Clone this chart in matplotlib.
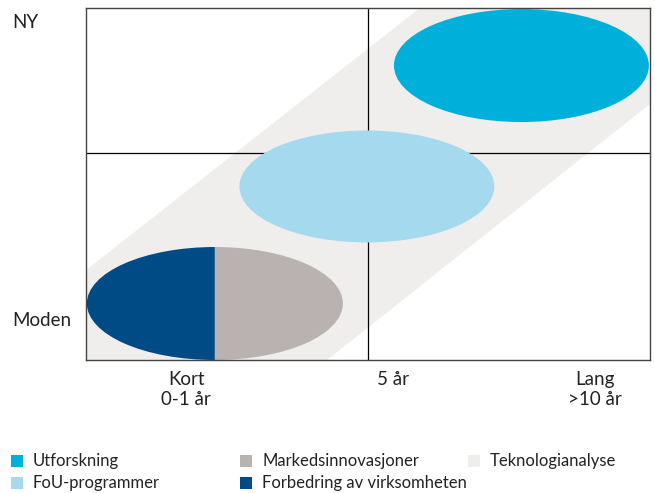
import matplotlib.pyplot as plt
from matplotlib.patches import Ellipse, Polygon, Rectangle, Wedge
import matplotlib.transforms as mtransforms

plt.rcParams['font.family'] = ['Lato', 'DejaVu Sans']

# categories / series
series = ['Utforskning', 'FoU-programmer', 'Markedsinnovasjoner',
          'Forbedring av virksomheten', 'Teknologianalyse']
colors = ['#00b0da', '#a4d9ee', '#b9b2b0', '#004b85', '#efeeed']

# ellipse centres (horisont, nyhet) and sizes
ell_x = [1.544, 0.996, 0.457]
ell_y = [1.673, 0.986, 0.321]
ell_w = [0.904, 0.904, 0.908]
ell_h = [0.642, 0.636, 0.642]

# teknologianalyse band (polygon corners)
band_x = [0, 0, 1.184, 2, 2, 0.855]
band_y = [0, 0.511, 2, 2, 1.455, 0]

x_labels = ['Kort\n0-1 år', '5 år', 'Lang\n>10 år']
x_label_pos = [0.355, 1.09, 1.805]
y_labels = ['NY', 'Moden']

x_div = 1.0
y_div = 1.176

fig = plt.figure(figsize=(6.55, 4.93), dpi=100)
ax = fig.add_axes([86/655, 133/493, 564/655, 352/493])
ax.set_xlim(0, 2)
ax.set_ylim(0, 2)

ax.add_patch(Polygon(list(zip(band_x, band_y)), closed=True,
                     facecolor=colors[4], edgecolor='none', zorder=1))

ax.axvline(x_div, color='black', lw=0.9, zorder=2)
ax.axhline(y_div, color='black', lw=0.9, zorder=2)

# top: Utforskning, middle: FoU
ax.add_patch(Ellipse((ell_x[0], ell_y[0]), ell_w[0], ell_h[0],
                     facecolor=colors[0], edgecolor='none', zorder=3))
ax.add_patch(Ellipse((ell_x[1], ell_y[1]), ell_w[1], ell_h[1],
                     facecolor=colors[1], edgecolor='none', zorder=3))

# bottom split ellipse: wedge on unit circle, scaled
tr = (mtransforms.Affine2D().scale(ell_w[2] / 2, ell_h[2] / 2)
      .translate(ell_x[2], ell_y[2]) + ax.transData)
ax.add_patch(Wedge((0, 0), 1, 90, 270, facecolor=colors[3],
                   edgecolor='none', transform=tr, zorder=3))
ax.add_patch(Wedge((0, 0), 1, -90, 90, facecolor=colors[2],
                   edgecolor='none', transform=tr, zorder=3))

for s in ax.spines.values():
    s.set_color('#444444')
    s.set_linewidth(1.0)
    s.set_zorder(4)
ax.set_xticks([])
ax.set_yticks([])

txt = '#222222'
for lab, xp in zip(x_labels, x_label_pos):
    ax.text(xp, -0.065, lab, ha='center', va='top', fontsize=13.5,
            linespacing=1.15, color=txt)

fig.text(12/655, 1 - 22/493, y_labels[0], ha='left', va='center',
         fontsize=13.5, color=txt)
fig.text(12/655, 1 - 321/493, y_labels[1], ha='left', va='center',
         fontsize=13.5, color=txt)

# legend, column-wise: 2 + 2 + 1
leg_col_x = [11, 240, 468]
leg_row_y = [461, 483]
for i, (name, c) in enumerate(zip(series, colors)):
    col, row = divmod(i, 2)
    x0 = leg_col_x[col]
    y0 = leg_row_y[row]
    fig.patches.append(Rectangle((x0/655, 1 - (y0 + 6)/493), 12/655, 12/493,
                                 transform=fig.transFigure, facecolor=c,
                                 edgecolor='none'))
    fig.text((x0 + 22)/655, 1 - y0/493, name, ha='left', va='center',
             fontsize=12, color=txt)

fig.savefig('out.png', dpi=100)
